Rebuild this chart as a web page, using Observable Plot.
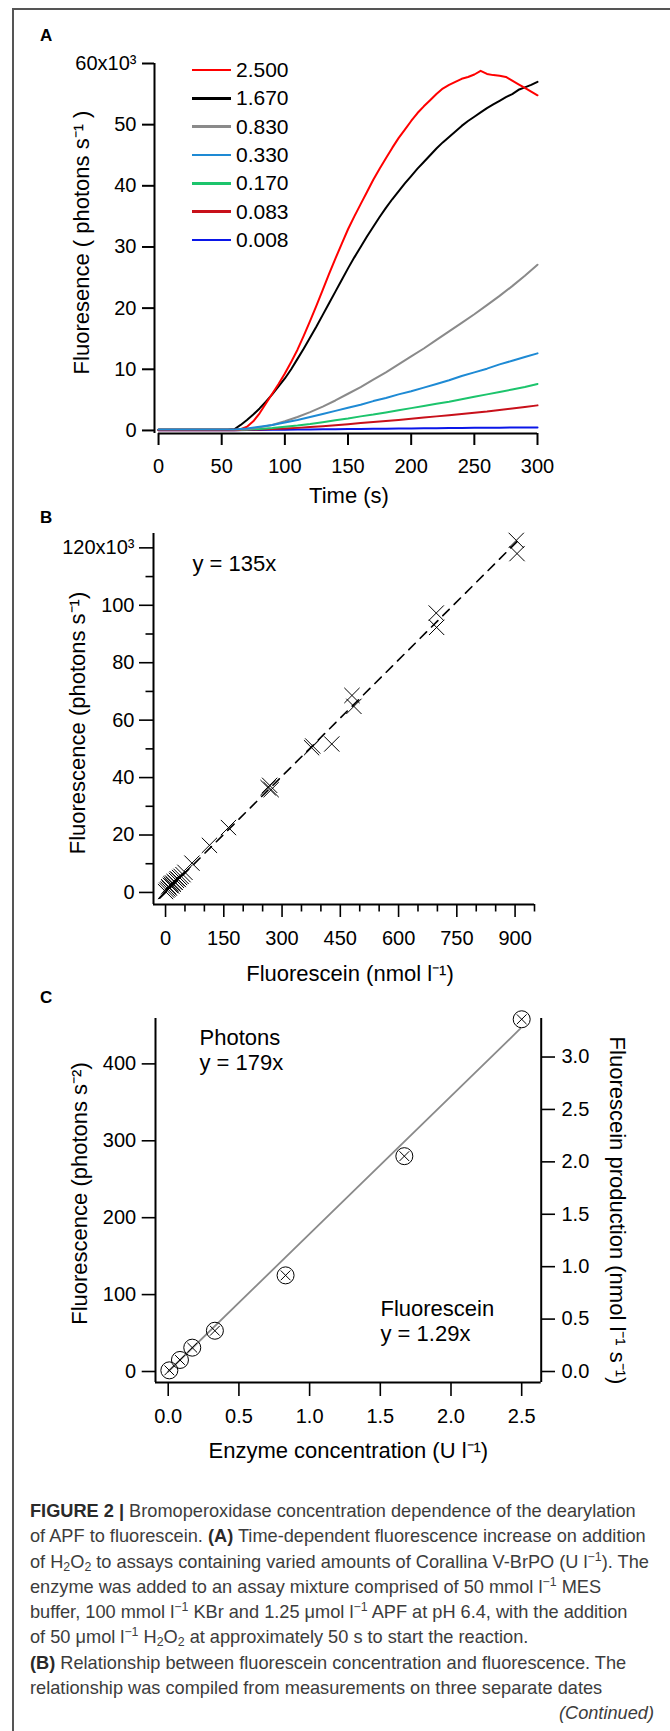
<!DOCTYPE html>
<html>
<head>
<meta charset="utf-8">
<script src="https://cdn.jsdelivr.net/npm/d3@7"></script>
<script src="https://cdn.jsdelivr.net/npm/@observablehq/plot@0.6"></script>
<style>
  body { margin: 0; background: #fff; }
  #page { position: relative; width: 670px; height: 1731px; overflow: hidden; font-family: "Liberation Sans", Arial, sans-serif; color: #000; }
  #frame { position: absolute; left: 12px; top: 8px; width: 720px; height: 1800px; border-left: 2px solid #555; border-top: 2px solid #555; }
  .panel { position: absolute; left: 0; }
  .letter { position: absolute; left: 40px; font-weight: bold; font-size: 17px; line-height: 17px; }
  .legline { position: absolute; left: 192px; width: 39px; height: 2.5px; }
  .leglab { position: absolute; left: 236px; font-size: 21px; line-height: 28px; white-space: nowrap; }
  #caption { position: absolute; left: 30px; top: 1499px; width: 630px; font-size: 18.2px; line-height: 25.3px; color: #3c3c3c; white-space: nowrap; }
  #caption b { color: #2a2a2a; }
  #caption sub { font-size: 0.68em; vertical-align: -0.25em; line-height: 0; }
  #caption sup { font-size: 0.68em; vertical-align: 0.55em; line-height: 0; }
  #caption .cont { text-align: right; font-style: italic; padding-right: 6px; }
</style>
</head>
<body>
<div id="page">
  <div id="frame"></div>
  <div class="letter" style="top:27px">A</div>
  <div class="letter" style="top:509px">B</div>
  <div class="letter" style="top:989px">C</div>
  <div id="legend"></div>
  <div id="caption">
    <div><b>FIGURE 2 |</b> Bromoperoxidase concentration dependence of the dearylation</div>
    <div>of APF to fluorescein. <b>(A)</b> Time-dependent fluorescence increase on addition</div>
    <div>of H<sub>2</sub>O<sub>2</sub> to assays containing varied amounts of Corallina V-BrPO (U l<sup>−1</sup>). The</div>
    <div>enzyme was added to an assay mixture comprised of 50 mmol l<sup>−1</sup> MES</div>
    <div>buffer, 100 mmol l<sup>−1</sup> KBr and 1.25 μmol l<sup>−1</sup> APF at pH 6.4, with the addition</div>
    <div>of 50 μmol l<sup>−1</sup> H<sub>2</sub>O<sub>2</sub> at approximately 50 s to start the reaction.</div>
    <div><b>(B)</b> Relationship between fluorescein concentration and fluorescence. The</div>
    <div>relationship was compiled from measurements on three separate dates</div>
    <div class="cont">(Continued)</div>
  </div>
</div>
<script>
// ---------------- Panel A data ----------------
const concentrations = ["2.500", "1.670", "0.830", "0.330", "0.170", "0.083", "0.008"];
const seriesColors = ["#ff0000", "#000000", "#8a8a8a", "#1e8ad4", "#1cc46c", "#c8101a", "#0a16e8"];
const drawOrder = ["0.008", "0.083", "0.170", "0.830", "1.670", "2.500", "0.330"];

const timeFast = [0,5,10,15,20,25,30,35,40,45,50,55,60,65,70,75,80,85,90,95,100,105,110,115,120,125,130,135,140,145,150,155,160,165,170,175,180,185,190,195,200,205,210,215,220,225,230,235,240,245,250,255,260,265,270,275,280,285,290,295,300];
const timeSlow = [0,10,20,30,40,50,60,70,80,90,100,110,120,130,140,150,160,170,180,190,200,210,220,230,240,250,260,270,280,290,300];

const fluor2500 = [0.1,0.1,0.1,0.1,0.1,0.1,0.1,0.1,0.1,0.1,0.1,0.1,0.1,0.2,0.6,1.5,2.8,4.4,6.0,7.6,9.3,11.2,13.2,15.5,17.9,20.4,23.0,25.6,28.1,30.5,32.9,35.0,37.0,39.0,41.0,42.8,44.5,46.2,47.8,49.2,50.6,51.9,53.0,54.0,55.0,55.9,56.5,57.0,57.5,57.8,58.2,58.8,58.3,58.1,58.0,57.8,57.2,56.6,56.0,55.4,54.8];
const fluor1670 = [0.1,0.1,0.1,0.1,0.1,0.1,0.1,0.1,0.1,0.1,0.1,0.1,0.2,0.9,1.7,2.6,3.6,4.7,5.9,7.2,8.5,10.0,11.7,13.4,15.2,17.0,18.9,20.8,22.7,24.6,26.5,28.3,30.0,31.7,33.3,34.9,36.4,37.8,39.1,40.4,41.6,42.8,43.9,45.0,46.1,47.1,48.0,48.9,49.8,50.6,51.3,52.0,52.7,53.3,53.9,54.5,55.0,55.7,56.1,56.5,57.0];
const fluor0830 = [0.1,0.1,0.1,0.1,0.1,0.1,0.1,0.2,0.5,0.9,1.5,2.2,3.0,3.9,4.9,6.0,7.1,8.3,9.5,10.8,12.1,13.4,14.8,16.2,17.6,19.0,20.5,22.0,23.6,25.3,27.1];
const fluor0330 = [0.15,0.15,0.15,0.15,0.15,0.15,0.15,0.3,0.6,0.9,1.3,1.7,2.2,2.7,3.2,3.7,4.2,4.8,5.3,5.9,6.4,7.0,7.6,8.2,8.9,9.5,10.1,10.8,11.4,12.0,12.6];
const fluor0170 = [0.1,0.1,0.1,0.1,0.1,0.1,0.1,0.15,0.25,0.4,0.6,0.8,1.05,1.35,1.65,1.95,2.3,2.6,2.95,3.3,3.65,4.0,4.35,4.7,5.1,5.5,5.9,6.3,6.7,7.1,7.6];
const fluor0083 = [0.05,0.05,0.05,0.05,0.05,0.05,0.05,0.1,0.15,0.22,0.3,0.42,0.55,0.7,0.85,1.02,1.2,1.37,1.55,1.72,1.9,2.1,2.3,2.5,2.7,2.9,3.1,3.35,3.6,3.85,4.1];
const fluor0008 = [0.05,0.05,0.05,0.05,0.05,0.05,0.05,0.06,0.08,0.1,0.12,0.14,0.16,0.18,0.2,0.22,0.24,0.26,0.28,0.3,0.32,0.34,0.36,0.38,0.4,0.42,0.44,0.45,0.47,0.48,0.5];
const timeTicksA = [0, 50, 100, 150, 200, 250, 300];
const fluorTicksA = [0, 10, 20, 30, 40, 50, 60];

// ---------------- Panel B data ----------------
const fluoresceinB = [0, 3, 6, 8, 10, 12, 14, 16, 18, 20, 22, 25, 28, 30, 33, 36, 40, 45, 50, 68, 113, 162, 264, 268, 272, 376, 379, 428, 480, 485, 697, 698, 903, 905];
const photonsB = [0.3, 0.8, 1.2, 2.0, 1.5, 2.5, 3.0, 2.2, 3.3, 2.8, 3.8, 3.5, 4.2, 4.8, 4.5, 5.2, 5.6, 6.2, 7.0, 10.2, 16.4, 22.6, 36.5, 37.3, 35.8, 50.4, 51.0, 51.7, 68.6, 64.8, 97.3, 92.3, 122.6, 118.0];
const slopeB = 0.135;           // y = 135x (in 10^3 units)
const fitRangeB = [-15, 905];
const xTicksB = [0, 150, 300, 450, 600, 750, 900];
const xMinorB = [50, 100, 200, 250, 350, 400, 500, 550, 650, 700, 800, 850, 950];
const yTicksB = [0, 20, 40, 60, 80, 100, 120];
const yMinorB = [10, 30, 50, 70, 90, 110];

// ---------------- Panel C data ----------------
const enzymeC = [0.008, 0.083, 0.17, 0.33, 0.83, 1.67, 2.5];
const photonRateC = [1.5, 15, 31, 53, 125, 280, 458];
const slopeC = 179;
const fitRangeC = [0, 2.49];
const photonsPerNmol = 136.3;   // right-axis conversion
const xTicksC = [0, 0.5, 1.0, 1.5, 2.0, 2.5];
const yTicksC = [0, 100, 200, 300, 400];
const yRightTicksC = [0, 0.5, 1.0, 1.5, 2.0, 2.5, 3.0];

const FONT = '"Liberation Sans", Arial, Helvetica, sans-serif';
const TICK = "20px";
const TITLE = 22;
const page = document.getElementById("page");

function place(svg, top) {
  svg.classList.add("panel");
  svg.style.top = top + "px";
  page.appendChild(svg);
}
const centered = {textAnchor: "middle", lineAnchor: "middle", fontSize: TITLE};
const leftText = {frameAnchor: "top-left", textAnchor: "start", lineAnchor: "middle", fontSize: TITLE};

// ---------------- Panel A ----------------
const seriesValues = {
  "2.500": [timeFast, fluor2500], "1.670": [timeFast, fluor1670], "0.830": [timeSlow, fluor0830],
  "0.330": [timeSlow, fluor0330], "0.170": [timeSlow, fluor0170], "0.083": [timeSlow, fluor0083], "0.008": [timeSlow, fluor0008]
};
const dataA = drawOrder.flatMap(c => seriesValues[c][0].map((t, i) => ({conc: c, t, v: seriesValues[c][1][i]})));

const A = { x0: -3.2, y0: -0.5 };
const plotA = Plot.plot({
  width: 670, height: 510,
  marginLeft: 154, marginRight: 133, marginTop: 63, marginBottom: 77,
  style: {fontFamily: FONT, fontSize: TICK, color: "#000", background: "transparent", overflow: "visible"},
  x: {domain: [A.x0, 300], label: null},
  y: {domain: [A.y0, 60], label: null},
  color: {domain: concentrations, range: seriesColors},
  marks: [
    Plot.ruleX([A.x0], {y1: A.y0, y2: 60, strokeWidth: 2}),
    Plot.ruleY([A.y0], {x1: 0, x2: 300, strokeWidth: 2}),
    Plot.axisY({ticks: fluorTicksA, tickSize: 12, tickPadding: 6, strokeWidth: 2, label: null,
      tickFormat: d => d === 60 ? "60x10³" : String(d)}),
    Plot.axisX({ticks: timeTicksA, tickSize: 12, tickPadding: 13, strokeWidth: 2, label: null}),
    Plot.line(dataA, {x: "t", y: "v", z: "conc", stroke: "conc", strokeWidth: 2}),
    Plot.text(["Time (s)"], {...centered, frameAnchor: "bottom", dx: 3, dy: 62}),
    Plot.text(["Fluoresence ( photons s⁻¹ )"], {...centered, frameAnchor: "left", rotate: -90, dx: -73, dy: -6})
  ]
});
place(plotA, 0);

// legend for panel A
const legend = document.getElementById("legend");
concentrations.forEach((c, i) => {
  const cy = 70 + i * 28.33;
  const line = document.createElement("div");
  line.className = "legline";
  line.style.top = (cy - 1.25) + "px";
  line.style.background = seriesColors[i];
  legend.appendChild(line);
  const lab = document.createElement("div");
  lab.className = "leglab";
  lab.style.top = (cy - 14) + "px";
  lab.textContent = c;
  legend.appendChild(lab);
});

// ---------------- Panel B ----------------
const dataB = fluoresceinB.map((x, i) => ({x, y: photonsB[i]}));
const fitB = fitRangeB.map(x => ({x, y: slopeB * x}));
const B = { x0: -31, y0: -4.2 };
const plotB = Plot.plot({
  width: 670, height: 490,
  marginLeft: 153, marginRight: 136, marginTop: 33, marginBottom: 86,
  style: {fontFamily: FONT, fontSize: TICK, color: "#000", background: "transparent", overflow: "visible"},
  x: {domain: [B.x0, 950], label: null},
  y: {domain: [B.y0, 125], label: null},
  marks: [
    Plot.ruleX([B.x0], {y1: B.y0, y2: 125, strokeWidth: 2}),
    Plot.ruleY([B.y0], {x1: B.x0, x2: 950, strokeWidth: 2}),
    Plot.axisY({ticks: yTicksB, tickSize: 14, tickPadding: 5, strokeWidth: 1.6, label: null,
      tickFormat: d => d === 120 ? "120x10³" : String(d)}),
    Plot.axisY({ticks: yMinorB, tickSize: 7.5, strokeWidth: 1.6, label: null, tickFormat: () => ""}),
    Plot.axisX({ticks: xTicksB, tickSize: 13, tickPadding: 13, strokeWidth: 1.6, label: null}),
    Plot.axisX({ticks: xMinorB, tickSize: 7.5, strokeWidth: 1.6, label: null, tickFormat: () => ""}),
    Plot.line(fitB, {x: "x", y: "y", stroke: "#000", strokeWidth: 1.6, strokeDasharray: "9,7"}),
    Plot.dot(dataB, {x: "x", y: "y", symbol: "times", r: 7, stroke: "#000", strokeWidth: 1}),
    Plot.text(["y = 135x"], {...leftText, dx: 39, dy: 30}),
    Plot.text(["Fluorescein (nmol l⁻¹)"], {...centered, frameAnchor: "bottom", dx: 6, dy: 69}),
    Plot.text(["Fluorescence (photons s⁻¹)"], {...centered, frameAnchor: "left", rotate: -90, dx: -76, dy: 4})
  ]
});
place(plotB, 500);

// ---------------- Panel C ----------------
const dataC = enzymeC.map((x, i) => ({x, y: photonRateC[i]}));
const fitC = fitRangeC.map(x => ({x, y: slopeC * x}));
const C = { x0: -0.09, x1: 2.638, y0: -14.3, y1: 459 };
const plotC = Plot.plot({
  width: 670, height: 480,
  marginLeft: 155, marginRight: 129.3, marginTop: 28, marginBottom: 88,
  style: {fontFamily: FONT, fontSize: TICK, color: "#000", background: "transparent", overflow: "visible"},
  x: {domain: [C.x0, C.x1], label: null},
  y: {domain: [C.y0, C.y1], label: null},
  marks: [
    Plot.ruleX([C.x0, C.x1], {y1: C.y0, y2: C.y1, strokeWidth: 2}),
    Plot.ruleY([C.y0], {x1: C.x0, x2: C.x1, strokeWidth: 2}),
    Plot.axisY({ticks: yTicksC, tickSize: 13.3, tickPadding: 6, strokeWidth: 1.6, label: null}),
    Plot.axisY({anchor: "right", ticks: yRightTicksC.map(v => v * photonsPerNmol), tickSize: 13.3, tickPadding: 7,
      strokeWidth: 1.6, label: null, tickFormat: d => (d / photonsPerNmol).toFixed(1)}),
    Plot.axisX({ticks: xTicksC, tickSize: 14, tickPadding: 12, strokeWidth: 1.6, label: null, tickFormat: d => d.toFixed(1)}),
    Plot.line(fitC, {x: "x", y: "y", stroke: "#8a8a8a", strokeWidth: 1.8}),
    Plot.dot(dataC, {x: "x", y: "y", r: 8.5, stroke: "#000", fill: "none", strokeWidth: 1}),
    Plot.dot(dataC, {x: "x", y: "y", symbol: "times", r: 4.5, stroke: "#000", strokeWidth: 1}),
    Plot.text(["Photons"], {...leftText, dx: 44, dy: 19}),
    Plot.text(["y = 179x"], {...leftText, dx: 44, dy: 44}),
    Plot.text(["Fluorescein"], {...leftText, dx: 225, dy: 290}),
    Plot.text(["y = 1.29x"], {...leftText, dx: 225, dy: 315}),
    Plot.text(["Enzyme concentration (U l⁻¹)"], {...centered, frameAnchor: "bottom", dx: 0, dy: 68}),
    Plot.text(["Fluorescence (photons s⁻²)"], {...centered, frameAnchor: "left", rotate: -90, dx: -76, dy: -7}),
    Plot.text(["Fluorescein production (nmol l⁻¹ s⁻¹)"], {...centered, frameAnchor: "right", rotate: 90, dx: 76, dy: 10})
  ]
});
place(plotC, 990);
</script>
</body>
</html>
